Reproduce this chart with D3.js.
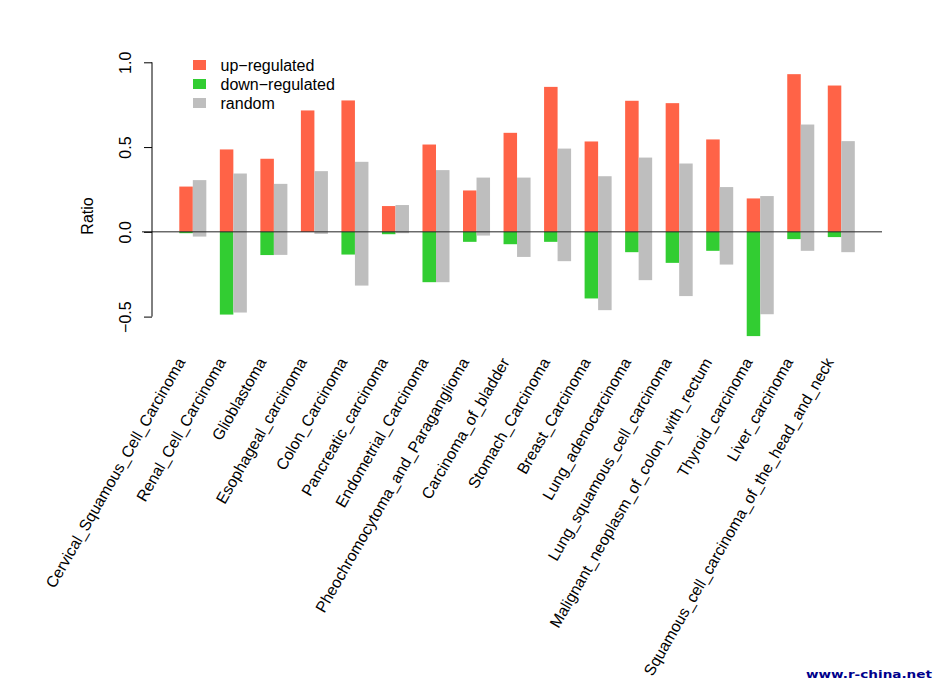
<!DOCTYPE html>
<html>
<head>
<meta charset="utf-8">
<script src="https://cdn.jsdelivr.net/npm/d3@7"></script>
<style>
  body { margin: 0; background: #fff; }
  svg { display: block; font-family: "Liberation Sans", Arial, Helvetica, sans-serif; }
</style>
</head>
<body>
<svg id="chart" width="937" height="685"></svg>
<script>
const categories = [
  "Cervical_Squamous_Cell_Carcinoma", "Renal_Cell_Carcinoma", "Glioblastoma",
  "Esophageal_carcinoma", "Colon_Carcinoma", "Pancreatic_carcinoma",
  "Endometrial_Carcinoma", "Pheochromocytoma_and_Paraganglioma", "Carcinoma_of_bladder",
  "Stomach_Carcinoma", "Breast_Carcinoma", "Lung_adenocarcinoma",
  "Lung_squamous_cell_carcinoma", "Malignant_neoplasm_of_colon_with_rectum",
  "Thyroid_carcinoma", "Liver_carcinoma", "Squamous_cell_carcinoma_of_the_head_and_neck"
];
const upRegulated   = [0.267, 0.486, 0.431, 0.716, 0.775, 0.152, 0.515, 0.244, 0.584, 0.855, 0.533, 0.773, 0.759, 0.545, 0.197, 0.930, 0.863];
const downRegulated = [-0.008, -0.488, -0.137, 0.000, -0.134, -0.014, -0.297, -0.059, -0.073, -0.059, -0.393, -0.120, -0.183, -0.112, -0.615, -0.043, -0.031];
const randomPos     = [0.305, 0.344, 0.283, 0.358, 0.413, 0.158, 0.364, 0.320, 0.320, 0.491, 0.328, 0.438, 0.403, 0.264, 0.211, 0.633, 0.535];
const randomNeg     = [-0.028, -0.476, -0.136, -0.012, -0.317, -0.008, -0.297, -0.022, -0.148, -0.173, -0.462, -0.285, -0.379, -0.193, -0.486, -0.112, -0.120];
const yTicks = [-0.5, 0.0, 0.5, 1.0];
const legendLabels = ["up\u2212regulated", "down\u2212regulated", "random"];
const colors = { up: "#FF6347", down: "#32CD32", random: "#BEBEBE" };

const svg = d3.select("#chart");
const x = d3.scaleLinear().domain([0, 51]).range([165.8, 854.8]);
const y = d3.scaleLinear().domain([-0.5, 1.0]).range([316.6, 62.3]);

const rows = categories.map((c, i) => ({
  name: c, i, up: upRegulated[i], down: downRegulated[i], rp: randomPos[i], rn: randomNeg[i]
}));

const g = svg.append("g");
function bar(cls, slot, key, color) {
  g.selectAll("rect." + cls).data(rows).join("rect")
    .attr("class", cls)
    .attr("x", d => x(3 * d.i + slot))
    .attr("width", d => x(3 * d.i + slot + 1) - x(3 * d.i + slot))
    .attr("y", d => Math.min(y(d[key]), y(0)))
    .attr("height", d => Math.abs(y(d[key]) - y(0)))
    .attr("fill", color);
}
bar("up", 1, "up", colors.up);
bar("down", 1, "down", colors.down);
bar("rp", 2, "rp", colors.random);
bar("rn", 2, "rn", colors.random);

// zero line
svg.append("line").attr("x1", 142).attr("x2", 882)
  .attr("y1", y(0)).attr("y2", y(0))
  .attr("stroke", "#222").attr("stroke-width", 1);

// y axis
const axisX = 152;
const yAxis = d3.axisLeft(y).tickValues(yTicks).tickSize(8).tickFormat(d3.format(".1f"));
const ag = svg.append("g").attr("transform", `translate(${axisX},0)`).call(yAxis);
ag.attr("font-size", null).attr("font-family", null);
ag.select(".domain").attr("d", `M0,${y(1.0)}V${y(-0.5)}`).attr("stroke", "#000");
ag.selectAll(".tick line").attr("stroke", "#000");
ag.selectAll(".tick text")
  .attr("x", null).attr("dy", null)
  .attr("transform", "translate(-27,0) rotate(-90)")
  .attr("text-anchor", "middle").attr("dy", "0.35em")
  .style("font-size", "16px").attr("fill", "#000")
  .text(d => d3.format(".1f")(d).replace("-", "\u2212"));

svg.append("text").attr("transform", "translate(87,216) rotate(-90)")
  .attr("text-anchor", "middle").attr("dy", "0.35em")
  .style("font-size", "16px").text("Ratio");

// category labels
svg.selectAll("text.cat").data(rows).join("text")
  .attr("class", "cat")
  .attr("transform", d => `translate(${x(3 * d.i + 2) - 7},362) rotate(-60)`)
  .attr("text-anchor", "end")
  .style("font-size", "15.8px")
  .text(d => d.name);

// legend
const lg = svg.append("g");
const lcol = [colors.up, colors.down, colors.random];
legendLabels.forEach((t, k) => {
  const cy = 65 + k * 19;
  lg.append("rect").attr("x", 193).attr("y", cy - 5).attr("width", 13).attr("height", 10).attr("fill", lcol[k]);
  lg.append("text").attr("x", 220.5).attr("y", cy).attr("dy", "0.35em").style("font-size", "16px").text(t);
});

// watermark
svg.append("text").attr("x", 806).attr("y", 678)
  .attr("font-family", "DejaVu Sans, Verdana, sans-serif").attr("font-weight", "bold")
  .attr("font-size", 11).attr("fill", "#00008B")
  .attr("textLength", 126).attr("lengthAdjust", "spacingAndGlyphs")
  .text("www.r-china.net");
</script>
</body>
</html>
